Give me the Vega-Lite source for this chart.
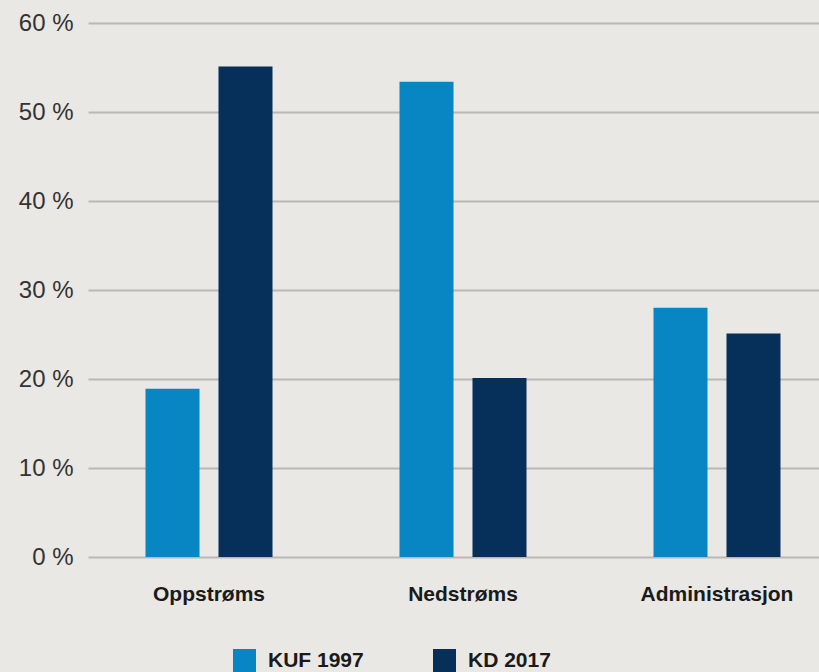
{
  "$schema": "https://vega.github.io/schema/vega-lite/v6.json",
  "width": 750,
  "height": 534,
  "autosize": "none",
  "padding": {"left": 88, "top": 23, "right": 0, "bottom": 115},
  "background": "#e9e8e4",
  "config": {
    "view": {"stroke": null},
    "font": "Liberation Sans"
  },
  "data": {
    "values": [
      {"kategori": "Oppstrøms", "serie": "KUF 1997", "andel": 18.9},
      {"kategori": "Oppstrøms", "serie": "KD 2017", "andel": 55.1},
      {"kategori": "Nedstrøms", "serie": "KUF 1997", "andel": 53.4},
      {"kategori": "Nedstrøms", "serie": "KD 2017", "andel": 20.1},
      {"kategori": "Administrasjon", "serie": "KUF 1997", "andel": 28.0},
      {"kategori": "Administrasjon", "serie": "KD 2017", "andel": 25.1}
    ]
  },
  "mark": {"type": "bar"},
  "encoding": {
    "x": {
      "field": "kategori",
      "type": "nominal",
      "sort": ["Oppstrøms", "Nedstrøms", "Administrasjon"],
      "scale": {"paddingInner": 0.5, "paddingOuter": 0.2264},
      "axis": {
        "title": null,
        "labelAngle": 0,
        "domain": false,
        "ticks": false,
        "labelFont": "Liberation Sans",
        "labelFontWeight": "bold",
        "labelFontSize": 21,
        "labelColor": "#1a1a1a",
        "labelPadding": 26
      }
    },
    "xOffset": {
      "field": "serie",
      "type": "nominal",
      "sort": ["KUF 1997", "KD 2017"],
      "scale": {"paddingInner": 0.26, "paddingOuter": 0}
    },
    "y": {
      "field": "andel",
      "type": "quantitative",
      "scale": {"domain": [0, 60], "nice": false},
      "axis": {
        "title": null,
        "values": [0, 10, 20, 30, 40, 50, 60],
        "labelExpr": "datum.value + ' %'",
        "domain": false,
        "ticks": false,
        "gridColor": "#b9b8b5",
        "gridWidth": 2,
        "labelFontSize": 24,
        "labelColor": "#333333",
        "labelPadding": 15
      }
    },
    "color": {
      "field": "serie",
      "type": "nominal",
      "sort": ["KUF 1997", "KD 2017"],
      "scale": {"domain": ["KUF 1997", "KD 2017"], "range": ["#0886c4", "#062f59"]},
      "legend": {
        "title": null,
        "orient": "none",
        "direction": "horizontal",
        "legendX": 145,
        "legendY": 626,
        "symbolType": "square",
        "symbolSize": 529,
        "symbolStrokeWidth": 0,
        "symbolOpacity": 1,
        "labelFontSize": 21,
        "labelFontWeight": "bold",
        "labelColor": "#1a1a1a",
        "labelOffset": 12,
        "columnPadding": 69
      }
    }
  }
}
